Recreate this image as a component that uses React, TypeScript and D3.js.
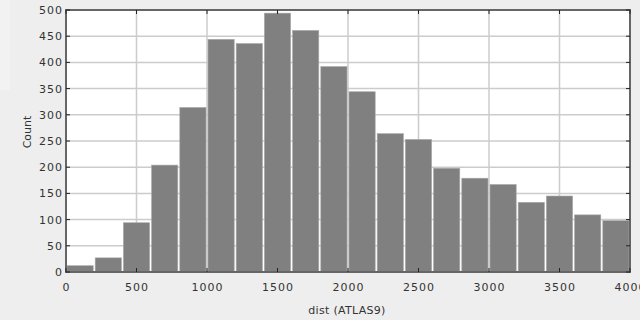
import { useEffect, useRef } from "react";
import * as d3 from "d3";

// histogram bins of dist (ATLAS9), width 200
const binStarts = [0, 200, 400, 600, 800, 1000, 1200, 1400, 1600, 1800, 2000, 2200, 2400, 2600, 2800, 3000, 3200, 3400, 3600, 3800];
const binWidth = 200;
const counts = [12, 27, 94, 204, 314, 444, 436, 494, 461, 392, 344, 264, 253, 198, 179, 167, 133, 145, 109, 98];
const xTicks = [0, 500, 1000, 1500, 2000, 2500, 3000, 3500, 4000];
const yTicks = [0, 50, 100, 150, 200, 250, 300, 350, 400, 450, 500];

export default function App() {
  const svgRef = useRef<SVGSVGElement>(null);

  useEffect(() => {
    if (!svgRef.current) return;
    const root = d3.select(svgRef.current);
    root.selectAll("*").remove();

    const left = 66, right = 630, top = 10, bottom = 272;
    const x = d3.scaleLinear().domain([0, 4000]).range([left, right]);
    const y = d3.scaleLinear().domain([0, 500]).range([bottom, top]);
    const font = "DejaVu Sans";

    root.append("rect").attr("width", 640).attr("height", 320).attr("fill", "#eeeeee");
    root.append("rect").attr("width", 10).attr("height", 90).attr("fill", "#f2f2f2");

    // plot area
    root.append("rect")
      .attr("x", left).attr("y", top)
      .attr("width", right - left).attr("height", bottom - top)
      .attr("fill", "#ffffff");

    // grid
    const grid = root.append("g").attr("stroke", "#cccccc").attr("stroke-width", 1.5);
    grid.selectAll("line.h")
      .data(yTicks)
      .enter()
      .append("line")
      .attr("x1", left).attr("x2", right)
      .attr("y1", (d) => y(d)).attr("y2", (d) => y(d));
    grid.selectAll("line.v")
      .data(xTicks)
      .enter()
      .append("line")
      .attr("x1", (d) => x(d)).attr("x2", (d) => x(d))
      .attr("y1", top).attr("y2", bottom);

    // bars
    root.append("g")
      .selectAll("rect")
      .data(binStarts)
      .enter()
      .append("rect")
      .attr("x", (d) => x(d) + 1)
      .attr("width", (d) => x(d + binWidth) - x(d) - 2)
      .attr("y", (_, i) => y(counts[i]))
      .attr("height", (_, i) => bottom - y(counts[i]))
      .attr("fill", "#808080")
      .attr("stroke", "#a8a8a8")
      .attr("stroke-width", 0.6);

    // frame
    root.append("rect")
      .attr("x", left).attr("y", top)
      .attr("width", right - left).attr("height", bottom - top)
      .attr("fill", "none")
      .attr("stroke", "#666666")
      .attr("stroke-width", 2);

    // inner ticks
    const ticks = root.append("g").attr("stroke", "#222222").attr("stroke-width", 1);
    xTicks.forEach((t) => {
      ticks.append("line").attr("x1", x(t)).attr("x2", x(t)).attr("y1", top).attr("y2", top + 4);
      ticks.append("line").attr("x1", x(t)).attr("x2", x(t)).attr("y1", bottom).attr("y2", bottom - 4);
    });
    yTicks.forEach((t) => {
      ticks.append("line").attr("x1", left).attr("x2", left + 4).attr("y1", y(t)).attr("y2", y(t));
      ticks.append("line").attr("x1", right).attr("x2", right - 4).attr("y1", y(t)).attr("y2", y(t));
    });

    // tick labels
    root.append("g")
      .selectAll("text")
      .data(yTicks)
      .enter()
      .append("text")
      .attr("x", left - 3)
      .attr("y", (d) => y(d) + 4)
      .attr("text-anchor", "end")
      .attr("fill", "#333333")
      .attr("font-size", "11px")
      .attr("letter-spacing", "1px")
      .attr("font-family", font)
      .text((d) => d);

    root.append("g")
      .selectAll("text")
      .data(xTicks)
      .enter()
      .append("text")
      .attr("x", (d) => x(d) + 0.5)
      .attr("y", bottom + 19)
      .attr("text-anchor", "middle")
      .attr("fill", "#333333")
      .attr("font-size", "11px")
      .attr("letter-spacing", "1px")
      .attr("font-family", font)
      .text((d) => d);

    // axis titles
    root.append("text")
      .attr("x", 347)
      .attr("y", 314)
      .attr("text-anchor", "middle")
      .attr("fill", "#333333")
      .attr("font-size", "11px")
      .attr("letter-spacing", "0.3px")
      .attr("font-family", font)
      .text("dist (ATLAS9)");

    root.append("text")
      .attr("transform", "translate(31,132) rotate(-90)")
      .attr("text-anchor", "middle")
      .attr("fill", "#333333")
      .attr("font-size", "11px")
      .attr("font-family", font)
      .text("Count");
  }, []);

  return (
    <div style={{ position: "fixed", left: 0, top: 0 }}>
      <svg ref={svgRef} width={640} height={320} style={{ display: "block" }} />
    </div>
  );
}
